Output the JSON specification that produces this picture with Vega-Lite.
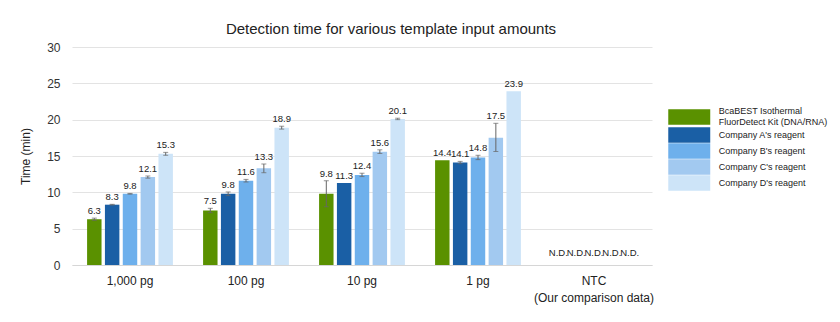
{
  "$schema": "https://vega.github.io/schema/vega-lite/v6.json",
  "width": 580,
  "height": 218,
  "autosize": {"type": "none"},
  "padding": {"left": 72, "top": 47, "right": 188, "bottom": 57},
  "background": "white",
  "config": {
    "font": "Liberation Sans",
    "view": {"stroke": null},
    "axisY": {
      "grid": true,
      "gridColor": "#e3e3e3",
      "domain": false,
      "ticks": false,
      "labelPadding": 12,
      "labelFontSize": 12,
      "labelColor": "#333333",
      "titleFontSize": 12,
      "titleFontWeight": "normal",
      "titleColor": "#222222",
      "titlePadding": 14
    }
  },
  "title": {
    "text": "Detection time for various template input amounts",
    "fontSize": 15,
    "fontWeight": "normal",
    "color": "#222222",
    "anchor": "middle",
    "offset": 4,
    "dx": 29
  },
  "data": {
    "values": [
      {"group": "1,000 pg", "reagent": "BcaBEST Isothermal FluorDetect Kit (DNA/RNA)", "value": 6.3, "lo": 6.15, "hi": 6.45, "label": "6.3"},
      {"group": "1,000 pg", "reagent": "Company A's reagent", "value": 8.3, "lo": 8.25, "hi": 8.35, "label": "8.3"},
      {"group": "1,000 pg", "reagent": "Company B's reagent", "value": 9.8, "lo": 9.75, "hi": 9.85, "label": "9.8"},
      {"group": "1,000 pg", "reagent": "Company C's reagent", "value": 12.1, "lo": 11.95, "hi": 12.25, "label": "12.1"},
      {"group": "1,000 pg", "reagent": "Company D's reagent", "value": 15.3, "lo": 15.1, "hi": 15.5, "label": "15.3"},
      {"group": "100 pg", "reagent": "BcaBEST Isothermal FluorDetect Kit (DNA/RNA)", "value": 7.5, "lo": 7.2, "hi": 7.8, "label": "7.5"},
      {"group": "100 pg", "reagent": "Company A's reagent", "value": 9.8, "lo": 9.55, "hi": 10.05, "label": "9.8"},
      {"group": "100 pg", "reagent": "Company B's reagent", "value": 11.6, "lo": 11.42, "hi": 11.78, "label": "11.6"},
      {"group": "100 pg", "reagent": "Company C's reagent", "value": 13.3, "lo": 12.7, "hi": 13.9, "label": "13.3"},
      {"group": "100 pg", "reagent": "Company D's reagent", "value": 18.9, "lo": 18.7, "hi": 19.1, "label": "18.9"},
      {"group": "10 pg", "reagent": "BcaBEST Isothermal FluorDetect Kit (DNA/RNA)", "value": 9.8, "lo": 8.0, "hi": 11.6, "label": "9.8"},
      {"group": "10 pg", "reagent": "Company A's reagent", "value": 11.3, "lo": 11.3, "hi": 11.3, "label": "11.3"},
      {"group": "10 pg", "reagent": "Company B's reagent", "value": 12.4, "lo": 12.17, "hi": 12.63, "label": "12.4"},
      {"group": "10 pg", "reagent": "Company C's reagent", "value": 15.6, "lo": 15.35, "hi": 15.85, "label": "15.6"},
      {"group": "10 pg", "reagent": "Company D's reagent", "value": 20.1, "lo": 20.0, "hi": 20.2, "label": "20.1"},
      {"group": "1 pg", "reagent": "BcaBEST Isothermal FluorDetect Kit (DNA/RNA)", "value": 14.4, "lo": 14.4, "hi": 14.4, "label": "14.4"},
      {"group": "1 pg", "reagent": "Company A's reagent", "value": 14.1, "lo": 13.94, "hi": 14.26, "label": "14.1"},
      {"group": "1 pg", "reagent": "Company B's reagent", "value": 14.8, "lo": 14.5, "hi": 15.1, "label": "14.8"},
      {"group": "1 pg", "reagent": "Company C's reagent", "value": 17.5, "lo": 15.62, "hi": 19.5, "label": "17.5"},
      {"group": "1 pg", "reagent": "Company D's reagent", "value": 23.9, "lo": 23.9, "hi": 23.9, "label": "23.9"},
      {"group": "NTC", "reagent": "BcaBEST Isothermal FluorDetect Kit (DNA/RNA)", "value": null, "lo": null, "hi": null, "label": "N.D."},
      {"group": "NTC", "reagent": "Company A's reagent", "value": null, "lo": null, "hi": null, "label": "N.D."},
      {"group": "NTC", "reagent": "Company B's reagent", "value": null, "lo": null, "hi": null, "label": "N.D."},
      {"group": "NTC", "reagent": "Company C's reagent", "value": null, "lo": null, "hi": null, "label": "N.D."},
      {"group": "NTC", "reagent": "Company D's reagent", "value": null, "lo": null, "hi": null, "label": "N.D."}
    ]
  },
  "encoding": {
    "x": {
      "field": "group",
      "type": "nominal",
      "sort": ["1,000 pg", "100 pg", "10 pg", "1 pg", "NTC"],
      "scale": {"paddingInner": 0.26, "paddingOuter": 0.13},
      "axis": {
        "title": null,
        "labelAngle": 0,
        "labelFontSize": 12,
        "labelColor": "#222222",
        "labelPadding": 10,
        "labelBaseline": "top",
        "labelLineHeight": 17,
        "ticks": false,
        "domainColor": "#d6d6d6",
        "labelExpr": "datum.label == 'NTC' ? ['NTC', '(Our comparison data)'] : datum.label"
      }
    },
    "xOffset": {
      "field": "reagent",
      "type": "nominal",
      "sort": ["BcaBEST Isothermal FluorDetect Kit (DNA/RNA)", "Company A's reagent", "Company B's reagent", "Company C's reagent", "Company D's reagent"],
      "scale": {"paddingInner": 0.19, "paddingOuter": 0}
    }
  },
  "layer": [
    {
      "mark": {"type": "bar"},
      "encoding": {
        "y": {
          "field": "value",
          "type": "quantitative",
          "title": "Time (min)",
          "scale": {"domain": [0, 30]},
          "axis": {"values": [0, 5, 10, 15, 20, 25, 30], "labelOverlap": false}
        },
        "color": {
          "field": "reagent",
          "type": "nominal",
          "scale": {
            "domain": ["BcaBEST Isothermal FluorDetect Kit (DNA/RNA)", "Company A's reagent", "Company B's reagent", "Company C's reagent", "Company D's reagent"],
            "range": ["#5a9100", "#1a5fa5", "#6eb0ec", "#a2c9f0", "#cde4f8"]
          },
          "legend": {
            "title": null,
            "orient": "none",
            "legendX": 596,
            "legendY": 62,
            "padding": 0,
            "rowPadding": 0,
            "symbolType": "M-2.71,-1H2.71V1H-2.71Z",
            "symbolSize": 240,
            "symbolOffset": 13.25,
            "symbolStrokeWidth": 0,
            "symbolOpacity": 1,
            "labelFontSize": 9,
            "labelColor": "#222222",
            "labelOffset": 21.5,
            "labelLimit": 200,
            "labelLineHeight": 12.3,
            "labelExpr": "datum.label == 'BcaBEST Isothermal FluorDetect Kit (DNA/RNA)' ? ['BcaBEST Isothermal', 'FluorDetect Kit (DNA/RNA)'] : datum.label",
            "encode": {
              "labels": {
                "update": {
                  "dy": {"signal": "datum.value == 'BcaBEST Isothermal FluorDetect Kit (DNA/RNA)' ? -6 : 0"}
                }
              }
            }
          }
        }
      }
    },
    {
      "transform": [{"filter": "datum.hi > datum.lo"}],
      "mark": {"type": "rule", "color": "#666666", "strokeWidth": 1},
      "encoding": {
        "y": {"field": "lo", "type": "quantitative", "title": "Time (min)", "axis": {"values": [0, 5, 10, 15, 20, 25, 30], "labelOverlap": false}},
        "y2": {"field": "hi"}
      }
    },
    {
      "transform": [{"filter": "datum.hi > datum.lo"}],
      "mark": {"type": "tick", "color": "#666666", "size": 5, "thickness": 1, "orient": "horizontal"},
      "encoding": {
        "y": {"field": "lo", "type": "quantitative", "title": "Time (min)", "axis": {"values": [0, 5, 10, 15, 20, 25, 30], "labelOverlap": false}}
      }
    },
    {
      "transform": [{"filter": "datum.hi > datum.lo"}],
      "mark": {"type": "tick", "color": "#666666", "size": 5, "thickness": 1, "orient": "horizontal"},
      "encoding": {
        "y": {"field": "hi", "type": "quantitative", "title": "Time (min)", "axis": {"values": [0, 5, 10, 15, 20, 25, 30], "labelOverlap": false}}
      }
    },
    {
      "transform": [{"filter": "datum.value != null"}],
      "mark": {"type": "text", "baseline": "bottom", "dy": -2, "fontSize": 9.5, "color": "#222222"},
      "encoding": {
        "y": {"field": "hi", "type": "quantitative", "title": "Time (min)", "axis": {"values": [0, 5, 10, 15, 20, 25, 30], "labelOverlap": false}},
        "text": {"field": "label"}
      }
    },
    {
      "transform": [{"filter": "datum.value == null"}],
      "mark": {"type": "text", "baseline": "bottom", "dy": -7, "fontSize": 9.5, "color": "#222222"},
      "encoding": {
        "y": {"datum": 0, "type": "quantitative", "title": "Time (min)", "axis": {"values": [0, 5, 10, 15, 20, 25, 30], "labelOverlap": false}},
        "text": {"field": "label"}
      }
    }
  ]
}
